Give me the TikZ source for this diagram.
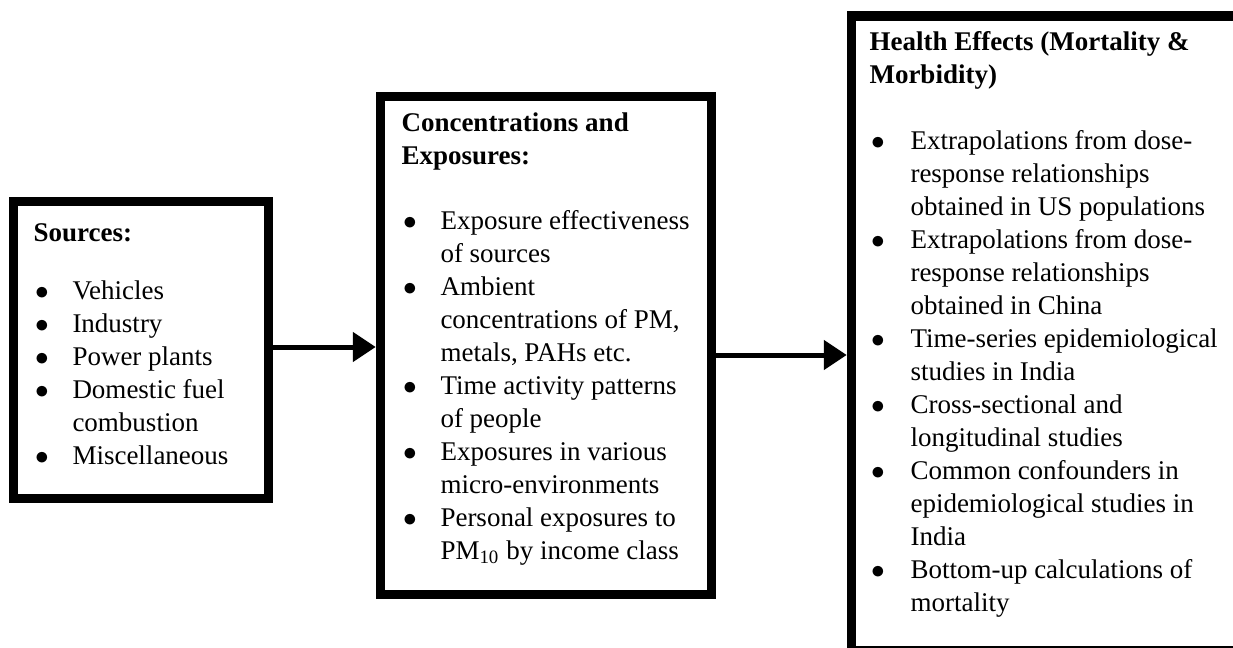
\documentclass[tikz,border=0pt]{standalone}
\usepackage{fontspec}
\setmainfont{Liberation Serif}
\usetikzlibrary{arrows.meta}

\tikzset{
  box/.style={draw, line width=3.8pt, inner sep=0pt},
  arr/.style={line width=2pt, -{Triangle[length=9.2pt,width=11.6pt]}},
  txt/.style={anchor=base west, inner sep=0pt, font=\fontsize{10.8pt}{13.2pt}\selectfont}
}
\newcommand{\hd}[1]{\multicolumn{2}{@{}l@{}}{\textbf{#1}}}
\newcommand{\bu}{\hspace{0.6pt}$\bullet$}

\begin{document}
\begin{tikzpicture}[x=0.4pt,y=-0.4pt]
\useasboundingbox (0,0) rectangle (1233,647);
\clip (0,0) rectangle (1233,647);

% the three boxes
\node[box, minimum width=102pt, minimum height=118.8pt] (src) at (141,350) {};
\node[box, minimum width=132.4pt, minimum height=199.2pt] (conc) at (546,345.5) {};
\node[box, minimum width=155.4pt, minimum height=254pt] (hlth) at (1045.75,333.5) {};

% box texts
\node[txt] (srctext) at (33,241) {\begin{tabular}[t]{@{}p{15.6pt}@{}l@{}}
\hd{Sources:}\\[10pt]
\bu & Vehicles\\
\bu & Industry\\
\bu & Power plants\\
\bu & Domestic fuel\\
    & combustion\\
\bu & Miscellaneous
\end{tabular}};

\node[txt] (conctext) at (401,131) {\begin{tabular}[t]{@{}p{15.6pt}@{}l@{}}
\hd{Concentrations and}\\
\hd{Exposures:}\\[13pt]
\bu & Exposure effectiveness\\
    & of sources\\
\bu & Ambient\\
    & concentrations of PM,\\
    & metals, PAHs etc.\\
\bu & Time activity patterns\\
    & of people\\
\bu & Exposures in various\\
    & micro-environments\\
\bu & Personal exposures to\\
    & PM\textsubscript{10} by income class
\end{tabular}};

\node[txt] (hlthtext) at (869,50) {\begin{tabular}[t]{@{}p{16.4pt}@{}l@{}}
\hd{Health Effects (Mortality \&}\\
\hd{Morbidity)}\\[13.4pt]
\bu & Extrapolations from dose-\\
    & response relationships\\
    & obtained in US populations\\
\bu & Extrapolations from dose-\\
    & response relationships\\
    & obtained in China\\
\bu & Time-series epidemiological\\
    & studies in India\\
\bu & Cross-sectional and\\
    & longitudinal studies\\
\bu & Common confounders in\\
    & epidemiological studies in\\
    & India\\
\bu & Bottom-up calculations of\\
    & mortality
\end{tabular}};

% arrows
\draw[arr] (src.east |- 0,347) -- (conc.west |- 0,347);
\draw[arr] (conc.east |- 0,355) -- (hlth.west |- 0,355);
\end{tikzpicture}
\end{document}
